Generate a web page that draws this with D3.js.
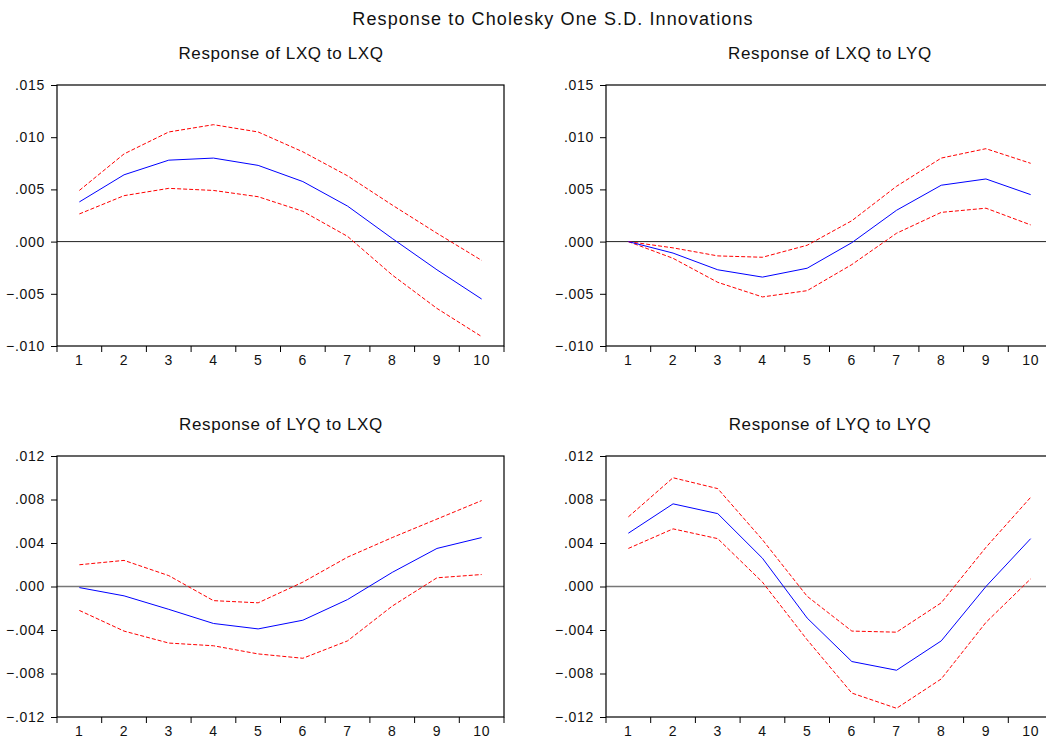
<!DOCTYPE html>
<html lang="en">
<head>
	<meta charset="UTF-8">
	<title>Response to Cholesky One S.D. Innovations</title>
	<script src="https://cdn.jsdelivr.net/npm/d3@7/dist/d3.min.js"></script>
	<style>
		body { margin: 0; background: #fff; }
		svg { display: block; font-family: "Liberation Sans", Arial, sans-serif; }
		.axis path { display: none; }
		.axis line { stroke: #000; }
		.frame { fill: none; stroke: #000; stroke-width: 1.2; }
	</style>
</head>
<body>
	<div id="container"></div>

	<script>
		var periods = [1, 2, 3, 4, 5, 6, 7, 8, 9, 10];

		// Response of LXQ to LXQ
		var lxqLxq = [0.0038, 0.0064, 0.0078, 0.0080, 0.0073, 0.00575, 0.0034, 0.0003, -0.0027, -0.0055];
		var lxqLxqUp = [0.0049, 0.0084, 0.0105, 0.0112, 0.0105, 0.0086, 0.0063, 0.0035, 0.0008, -0.0018];
		var lxqLxqLo = [0.00265, 0.0044, 0.0051, 0.0049, 0.0043, 0.0029, 0.0005, -0.0032, -0.0064, -0.0091];

		// Response of LXQ to LYQ
		var lxqLyq = [0.0, -0.0011, -0.0027, -0.0034, -0.00255, -0.0001, 0.0030, 0.0054, 0.0060, 0.0045];
		var lxqLyqUp = [0.0, -0.0006, -0.00137, -0.0015, -0.00035, 0.0020, 0.0053, 0.0080, 0.0089, 0.0075];
		var lxqLyqLo = [0.0, -0.0016, -0.0039, -0.0053, -0.0047, -0.0022, 0.0008, 0.0028, 0.0032, 0.0016];

		// Response of LYQ to LXQ
		var lyqLxq = [-0.0001, -0.00086, -0.0021, -0.0034, -0.0039, -0.0031, -0.0012, 0.0013, 0.0035, 0.0045];
		var lyqLxqUp = [0.0020, 0.0024, 0.0010, -0.0013, -0.0015, 0.0004, 0.0027, 0.0045, 0.0062, 0.0079];
		var lyqLxqLo = [-0.0022, -0.0041, -0.0052, -0.00545, -0.0062, -0.0066, -0.0050, -0.0018, 0.0008, 0.0011];

		// Response of LYQ to LYQ
		var lyqLyq = [0.0049, 0.0076, 0.0067, 0.0026, -0.0029, -0.0069, -0.0077, -0.0050, 0.0000, 0.0044];
		var lyqLyqUp = [0.0064, 0.0100, 0.0090, 0.0043, -0.0009, -0.0041, -0.0042, -0.0015, 0.0036, 0.0082];
		var lyqLyqLo = [0.0035, 0.0053, 0.0044, 0.0004, -0.0049, -0.0098, -0.0112, -0.0085, -0.0033, 0.0007];

		var topTicks = [0.015, 0.010, 0.005, 0.000, -0.005, -0.010];
		var bottomTicks = [0.012, 0.008, 0.004, 0.000, -0.004, -0.008, -0.012];

		var width = 1046, height = 741;

		var svg = d3.select("#container").append("svg")
			.attr("width", width)
			.attr("height", height);

		svg.append("text")
			.attr("x", 553)
			.attr("y", 25)
			.attr("text-anchor", "middle")
			.style("font-size", "18px")
			.style("letter-spacing", "1.1px")
			.style("fill", "#111")
			.text("Response to Cholesky One S.D. Innovations");

		var panels = [
			{ title: "Response of LXQ to LXQ", left: 57, top: 85, bottom: 346, titleX: 281, titleY: 59,
				domain: [-0.010, 0.015], ticks: topTicks, mid: lxqLxq, up: lxqLxqUp, lo: lxqLxqLo, zero: "#222" },
			{ title: "Response of LXQ to LYQ", left: 606, top: 85, bottom: 346, titleX: 830, titleY: 59,
				domain: [-0.010, 0.015], ticks: topTicks, mid: lxqLyq, up: lxqLyqUp, lo: lxqLyqLo, zero: "#222" },
			{ title: "Response of LYQ to LXQ", left: 57, top: 456, bottom: 717, titleX: 281, titleY: 430,
				domain: [-0.012, 0.012], ticks: bottomTicks, mid: lyqLxq, up: lyqLxqUp, lo: lyqLxqLo, zero: "#777" },
			{ title: "Response of LYQ to LYQ", left: 606, top: 456, bottom: 717, titleX: 830, titleY: 430,
				domain: [-0.012, 0.012], ticks: bottomTicks, mid: lyqLyq, up: lyqLyqUp, lo: lyqLyqLo, zero: "#777" }
		];

		var bandWidth = 44.7;

		var fmt = function(v) {
			var s = d3.format(".3f")(Math.abs(v) < 1e-9 ? 0 : v);
			return s.replace("0.", ".");
		};

		panels.forEach(function(p) {
			var right = p.left + bandWidth * periods.length;

			var x = d3.scaleBand()
				.domain(periods)
				.range([p.left, right])
				.padding(0);

			var y = d3.scaleLinear()
				.domain(p.domain)
				.range([p.bottom, p.top]);

			var cx = function(d) { return x(d) + x.bandwidth() / 2; };

			svg.append("text")
				.attr("x", p.titleX)
				.attr("y", p.titleY)
				.attr("text-anchor", "middle")
				.style("font-size", "17px")
				.style("letter-spacing", "0.6px")
				.style("fill", "#111")
				.text(p.title);

			// y axis
			var yAxis = svg.append("g")
				.attr("class", "axis")
				.attr("transform", "translate(" + p.left + ",0)")
				.call(d3.axisLeft(y).tickValues(p.ticks).tickFormat(fmt).tickSize(6).tickPadding(6));
			yAxis.attr("font-size", null).attr("font-family", null);
			yAxis.selectAll("text")
				.style("font-size", "14px")
				.style("letter-spacing", "0.7px")
				.style("fill", "#111");

			// x axis labels at band centres
			var xAxis = svg.append("g")
				.attr("class", "axis")
				.attr("transform", "translate(0," + p.bottom + ")")
				.call(d3.axisBottom(x).tickSize(0).tickPadding(7));
			xAxis.attr("font-size", null).attr("font-family", null);
			xAxis.selectAll("text")
				.attr("dy", "0.85em")
				.style("font-size", "14px")
				.style("letter-spacing", "0.7px")
				.style("fill", "#111");

			// x tick marks at band edges
			var edges = periods.map(function(d) { return x(d); }).concat([right]);
			svg.append("g").selectAll("line")
				.data(edges)
				.enter().append("line")
					.attr("x1", function(d) { return d; })
					.attr("x2", function(d) { return d; })
					.attr("y1", p.bottom)
					.attr("y2", p.bottom + 6)
					.attr("stroke", "#000");

			// zero line
			svg.append("line")
				.attr("x1", p.left)
				.attr("x2", right)
				.attr("y1", y(0))
				.attr("y2", y(0))
				.attr("stroke", p.zero)
				.attr("stroke-width", p.zero == "#777" ? 1.5 : 1);

			var line = d3.line()
				.x(function(d, i) { return cx(periods[i]); })
				.y(function(d) { return y(d); });

			svg.append("path")
				.datum(p.up)
				.attr("d", line)
				.attr("fill", "none")
				.attr("stroke", "#ff0000")
				.attr("stroke-dasharray", "4,2");

			svg.append("path")
				.datum(p.lo)
				.attr("d", line)
				.attr("fill", "none")
				.attr("stroke", "#ff0000")
				.attr("stroke-dasharray", "4,2");

			svg.append("path")
				.datum(p.mid)
				.attr("d", line)
				.attr("fill", "none")
				.attr("stroke", "#0000ff");

			svg.append("rect")
				.attr("class", "frame")
				.attr("x", p.left)
				.attr("y", p.top)
				.attr("width", right - p.left)
				.attr("height", p.bottom - p.top);
		});
	</script>
</body>
</html>
